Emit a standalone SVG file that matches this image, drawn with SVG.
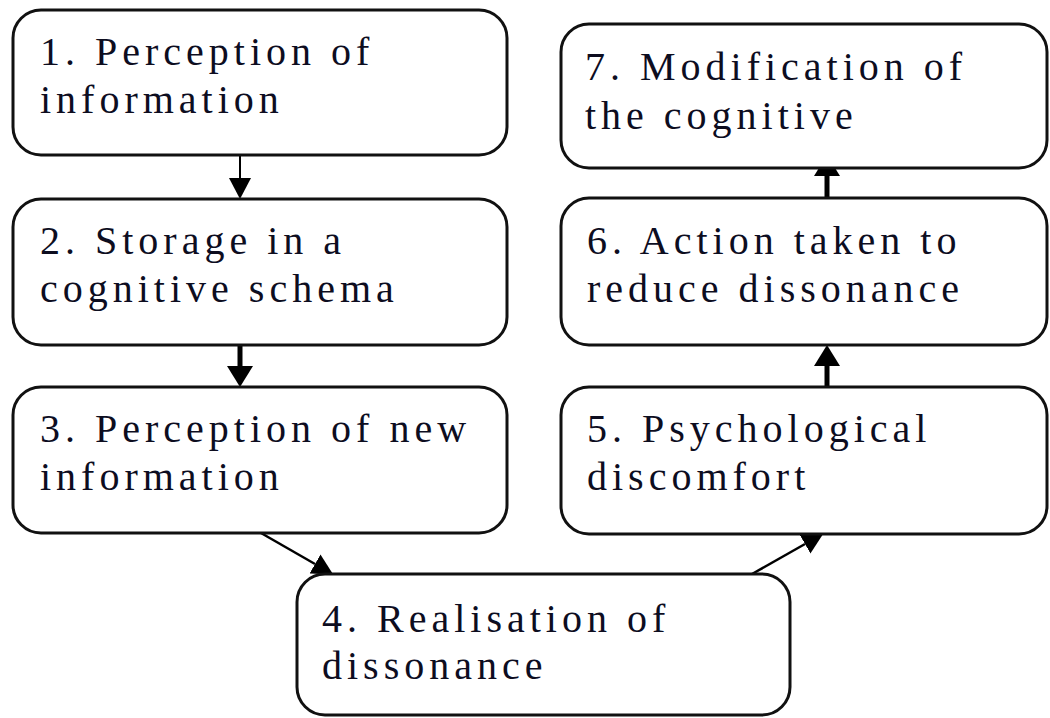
<svg xmlns="http://www.w3.org/2000/svg" width="1050" height="718" viewBox="0 0 1050 718">
  <style>
    .box { fill: #ffffff; stroke: #111111; stroke-width: 3; }
    .lbl { font-family: "Liberation Serif", "Times New Roman", serif; font-size: 40px; letter-spacing: 5px; fill: #0d0d1f; }
    .conn { stroke: #000000; fill: none; }
  </style>
  <defs>
    <marker id="arrow" markerUnits="userSpaceOnUse" markerWidth="22" markerHeight="26" refX="0" refY="13" orient="auto">
      <path d="M0,0 L21,13 L0,26 Z" fill="#000000"/>
    </marker>
    <marker id="arrowS" markerUnits="userSpaceOnUse" markerWidth="22" markerHeight="22" refX="0" refY="11" orient="auto">
      <path d="M0,0 L21,11 L0,22 Z" fill="#000000"/>
    </marker>
  </defs>
  <rect width="1050" height="718" fill="#ffffff"/>

  <g id="connectors">
    <line class="conn" x1="240" y1="155" x2="240" y2="178" stroke-width="2" marker-end="url(#arrowS)"/>
    <line class="conn" x1="240" y1="345" x2="240" y2="366" stroke-width="5" marker-end="url(#arrow)"/>
    <line class="conn" x1="261" y1="533" x2="315" y2="564" stroke-width="2.5" marker-end="url(#arrowS)"/>
    <line class="conn" x1="752" y1="574" x2="805" y2="544" stroke-width="2.5" marker-end="url(#arrowS)"/>
    <line class="conn" x1="827" y1="387" x2="827" y2="366" stroke-width="5" marker-end="url(#arrow)"/>
    <line class="conn" x1="827" y1="198" x2="827" y2="176" stroke-width="5" marker-end="url(#arrow)"/>
  </g>

  <g id="node1">
    <rect class="box" x="13" y="10" width="494" height="145" rx="28" ry="28"/>
    <text class="lbl" x="40" y="65">1. Perception of</text>
    <text class="lbl" x="40" y="113">information</text>
  </g>
  <g id="node2">
    <rect class="box" x="13" y="199" width="494" height="146" rx="28" ry="28"/>
    <text class="lbl" x="40" y="254">2. Storage in a</text>
    <text class="lbl" x="40" y="302">cognitive schema</text>
  </g>
  <g id="node3">
    <rect class="box" x="13" y="387" width="494" height="146" rx="28" ry="28"/>
    <text class="lbl" x="40" y="442">3. Perception of new</text>
    <text class="lbl" x="40" y="490">information</text>
  </g>
  <g id="node4">
    <rect class="box" x="297" y="574" width="493" height="141" rx="28" ry="28"/>
    <text class="lbl" x="322" y="632">4. Realisation of</text>
    <text class="lbl" x="322" y="679">dissonance</text>
  </g>
  <g id="node5">
    <rect class="box" x="561" y="387" width="486" height="147" rx="28" ry="28"/>
    <text class="lbl" x="587" y="442">5. Psychological</text>
    <text class="lbl" x="587" y="490">discomfort</text>
  </g>
  <g id="node6">
    <rect class="box" x="561" y="198" width="486" height="147" rx="28" ry="28"/>
    <text class="lbl" x="587" y="254">6. Action taken to</text>
    <text class="lbl" x="587" y="302">reduce dissonance</text>
  </g>
  <g id="node7">
    <rect class="box" x="561" y="24" width="486" height="144" rx="28" ry="28"/>
    <text class="lbl" x="585" y="80">7. Modification of</text>
    <text class="lbl" x="585" y="129">the cognitive</text>
  </g>
</svg>
